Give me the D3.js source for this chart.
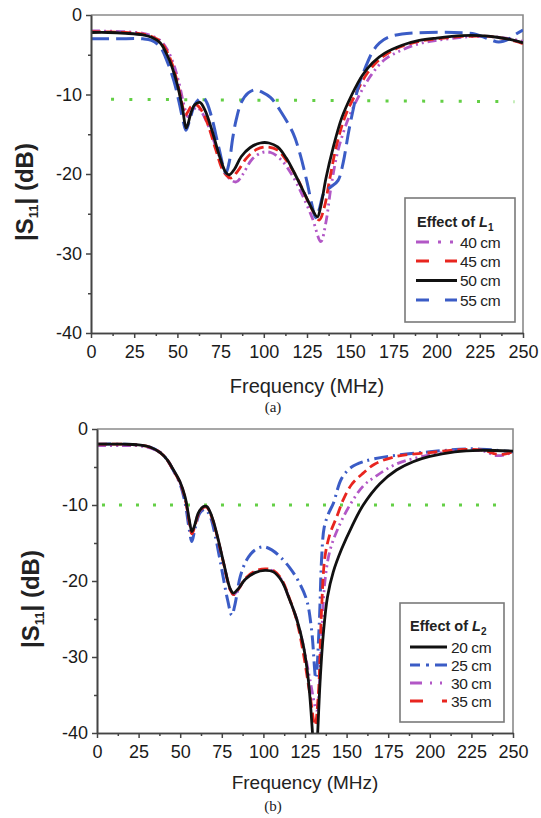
<!DOCTYPE html>
<html>
<head>
<meta charset="utf-8">
<script src="https://cdn.jsdelivr.net/npm/d3@7"></script>
<style>
  body { margin: 0; background: #fff; }
  svg { display: block; }
</style>
</head>
<body>
<svg id="chart" width="541" height="818"></svg>
<script>
// |S11| vs frequency, two stacked panels: (a) effect of L1, (b) effect of L2

// ---- data, panel (a): [frequency MHz, |S11| dB]
const xTicks = [0, 25, 50, 75, 100, 125, 150, 175, 200, 225, 250];
const yTicks = [0, -10, -20, -30, -40];

const a40 = [[0,-2.0],[20,-2.1],[30,-2.3],[35,-2.6],[40,-3.2],[44,-4.3],[48,-6.3],[51,-8.6],[54,-11.5],[56,-12.8],[58,-12.4],[61,-11.6],[64,-12.2],[68,-14.0],[73,-17.0],[79,-20.3],[84,-21.0],[88,-20.0],[93,-18.2],[99,-17.3],[104,-17.3],[110,-18.2],[116,-20.0],[122,-22.5],[128,-25.5],[133,-28.5],[136,-26.0],[139,-21.5],[143,-17.0],[149,-13.0],[155,-10.2],[162,-7.6],[170,-5.6],[180,-4.4],[190,-3.6],[200,-3.2],[215,-2.8],[230,-2.7],[240,-2.9],[250,-3.3]];
const a45 = [[0,-2.1],[20,-2.2],[30,-2.4],[35,-2.7],[40,-3.3],[44,-4.6],[47,-6.2],[50,-8.5],[53,-11.5],[54.5,-12.6],[56,-12.2],[58,-11.5],[61,-11.3],[64,-12.0],[68,-14.0],[72,-16.8],[77,-19.8],[81,-20.5],[85,-19.6],[90,-18.0],[96,-16.9],[102,-16.6],[108,-17.0],[114,-18.6],[120,-20.8],[126,-23.6],[132,-25.8],[135,-24.2],[138,-20.8],[142,-16.5],[147,-12.8],[153,-10.0],[160,-7.3],[168,-5.4],[178,-4.1],[190,-3.3],[200,-3.0],[215,-2.7],[230,-2.7],[240,-3.0],[250,-3.6]];
const a50 = [[0,-2.2],[10,-2.2],[20,-2.3],[30,-2.5],[35,-2.8],[40,-3.5],[44,-5.0],[47,-6.6],[50,-8.8],[53,-11.8],[55,-14.2],[56,-13.8],[58,-12.2],[60,-11.3],[63,-11.0],[66,-12.0],[70,-14.5],[74,-17.5],[78,-19.8],[80,-20.1],[83,-19.4],[87,-17.8],[92,-16.7],[98,-16.1],[103,-16.1],[108,-16.6],[113,-18.0],[118,-20.0],[123,-22.2],[127,-24.0],[131,-25.4],[133,-24.0],[136,-20.5],[140,-16.8],[145,-13.0],[151,-10.0],[157,-7.6],[163,-6.0],[170,-4.8],[180,-3.8],[190,-3.2],[200,-2.9],[215,-2.6],[225,-2.6],[235,-2.8],[243,-3.1],[250,-3.5]];
const a55 = [[0,-3.0],[15,-3.0],[30,-3.0],[35,-3.2],[40,-4.0],[44,-5.8],[48,-8.3],[51,-11.0],[53.5,-13.5],[55,-14.5],[57,-13.3],[60,-11.3],[63,-10.5],[65,-10.4],[67,-11.0],[70,-13.0],[74,-16.7],[78,-19.9],[80,-18.5],[82,-15.5],[84,-13.2],[87,-11.0],[91,-9.8],[95,-9.4],[99,-9.7],[104,-10.4],[110,-12.2],[117,-14.9],[121,-17.5],[125,-21.0],[128,-24.0],[130,-25.5],[132,-24.5],[135,-22.3],[139,-21.6],[143,-20.8],[146,-18.5],[149,-14.8],[152,-11.6],[155,-8.8],[159,-6.5],[163,-4.6],[167,-3.5],[172,-2.8],[180,-2.4],[195,-2.2],[210,-2.2],[222,-2.4],[230,-3.0],[236,-3.4],[242,-3.0],[246,-2.4],[250,-1.9]];
const aRef = [[11.6,-10.6],[245,-10.9]];

// ---- data, panel (b)
const b20 = [[0,-2.0],[15,-2.0],[25,-2.1],[32,-2.4],[38,-3.1],[42,-4.0],[46,-5.4],[50,-7.0],[53,-9.0],[55.5,-12.0],[57,-13.5],[58.5,-12.8],[61,-11.0],[64,-10.2],[66,-10.2],[69,-11.5],[72,-13.8],[76,-17.5],[80,-21.0],[82,-21.6],[85,-21.0],[89,-19.8],[95,-18.9],[101,-18.6],[106,-18.8],[111,-20.0],[116,-22.6],[120,-25.0],[124,-28.5],[127,-33.0],[129.5,-40.0],[131,-46.0],[132.5,-40.5],[134,-33.5],[136,-27.0],[138.5,-22.1],[142,-18.8],[147,-15.8],[153,-12.9],[160,-10.0],[170,-7.2],[180,-5.4],[190,-4.3],[200,-3.6],[215,-3.0],[230,-2.8],[250,-2.9]];
const b25 = [[0,-2.0],[15,-2.0],[25,-2.1],[32,-2.4],[38,-3.1],[42,-4.0],[46,-5.5],[50,-7.3],[53,-9.8],[55.5,-13.3],[57,-14.8],[59,-13.0],[62,-11.0],[65,-10.6],[68,-11.5],[71,-14.0],[75,-18.5],[78.5,-22.5],[81,-24.5],[83,-23.0],[86,-19.5],[90,-17.2],[95,-15.9],[100,-15.5],[105,-15.9],[110,-16.8],[116,-18.3],[121,-20.0],[126,-22.5],[129,-26.5],[131.5,-32.8],[133.5,-26.0],[135,-17.0],[136.5,-13.0],[139,-11.2],[142,-9.8],[147,-6.5],[153,-5.0],[160,-4.3],[175,-3.6],[200,-3.0],[225,-2.6],[240,-2.8],[250,-3.0]];
const b30 = [[0,-2.2],[15,-2.2],[25,-2.2],[32,-2.5],[38,-3.1],[42,-4.0],[46,-5.5],[50,-7.1],[53,-9.2],[55.5,-12.2],[57,-13.7],[58.5,-12.9],[61,-11.1],[64,-10.3],[66,-10.3],[69,-11.6],[72,-13.9],[76,-17.6],[80,-21.1],[82,-21.8],[85,-21.1],[89,-19.8],[95,-18.8],[101,-18.5],[106,-18.7],[111,-19.9],[116,-22.6],[120,-25.0],[124,-28.5],[128,-33.0],[132,-37.0],[135,-27.0],[137,-20.0],[140,-16.0],[145,-13.0],[152,-10.0],[160,-7.5],[167,-6.3],[180,-4.6],[200,-3.4],[220,-2.8],[232,-2.9],[240,-3.5],[245,-3.4],[250,-3.0]];
const b35 = [[0,-2.0],[15,-2.0],[25,-2.1],[32,-2.4],[38,-3.1],[42,-4.0],[46,-5.5],[50,-7.1],[53,-9.2],[55.5,-12.3],[57,-13.8],[58.5,-13.0],[61,-11.2],[64,-10.3],[66,-10.3],[69,-11.6],[72,-13.9],[76,-17.6],[80,-21.1],[82,-21.8],[85,-21.1],[89,-19.7],[95,-18.7],[101,-18.4],[106,-18.6],[111,-19.8],[116,-22.5],[120,-25.2],[124,-29.5],[128,-35.0],[131,-39.0],[133,-35.0],[135,-23.5],[137,-16.8],[140,-13.8],[144,-11.6],[148,-9.3],[153,-7.3],[160,-5.8],[167,-4.6],[180,-3.6],[200,-3.1],[220,-2.7],[232,-2.8],[240,-3.3],[245,-3.3],[250,-3.0]];
const bRef = [[3,-10],[244,-10]];

const labelsA = ["40 cm", "45 cm", "50 cm", "55 cm"];
const labelsB = ["20 cm", "25 cm", "30 cm", "35 cm"];

// ---- colours
const PINK = "#b257c6", RED = "#e8251f", BLACK = "#111", BLUE = "#3b5cc6", GREEN = "#63cf45";
const FONT = "'Liberation Sans', Arial, sans-serif";

const svg = d3.select("#chart");

function drawPanel(cfg) {
  const b = cfg.box;
  const x = d3.scaleLinear().domain([0, 250]).range([b.left, b.right]);
  const y = d3.scaleLinear().domain([-40, 0]).range([b.bottom, b.top]);
  const g = svg.append("g");

  g.append("clipPath").attr("id", cfg.id + "-clip")
    .append("rect")
    .attr("x", b.left).attr("y", b.top)
    .attr("width", b.right - b.left).attr("height", b.bottom - b.top);

  // frame top/right (lighter grey)
  g.append("path")
    .attr("d", `M${b.left},${b.top}H${b.right}V${b.bottom}`)
    .attr("fill", "none").attr("stroke", "#8a8a8a").attr("stroke-width", 1.6);

  const plot = g.append("g").attr("clip-path", `url(#${cfg.id}-clip)`);

  // -10 dB reference dots
  plot.append("path")
    .attr("d", d3.line().x(d => x(d[0])).y(d => y(d[1]))(cfg.ref))
    .attr("fill", "none").attr("stroke", GREEN).attr("stroke-width", 3)
    .attr("stroke-dasharray", cfg.refDash);

  const line = d3.line()
    .x(d => x(d[0])).y(d => y(d[1]))
    .curve(d3.curveCatmullRom.alpha(0.5));

  // drawn in given order (solid black last so it sits on top)
  cfg.drawOrder.forEach(s => {
    plot.append("path")
      .attr("d", line(s.data))
      .attr("fill", "none")
      .attr("stroke", s.color)
      .attr("stroke-width", s.width)
      .attr("stroke-dasharray", s.dash)
      .attr("stroke-linejoin", "round");
  });

  // axes
  const styleAxis = sel => {
    sel.select(".domain").attr("stroke", "#444").attr("stroke-width", 1.6);
    sel.selectAll(".tick line").attr("stroke", "#444").attr("stroke-width", 1.5);
    sel.selectAll("text").attr("font-family", FONT).attr("font-size", 18).attr("fill", "#1a1a1a");
  };
  const minorX = d3.range(12.5, 250, 25);
  const minorY = [-5, -15, -25, -35];

  g.append("g").attr("transform", `translate(0,${b.bottom})`)
    .call(d3.axisBottom(x).tickValues(minorX).tickSize(3).tickFormat("").tickSizeOuter(0))
    .call(styleAxis);
  g.append("g").attr("transform", `translate(${b.left},0)`)
    .call(d3.axisLeft(y).tickValues(minorY).tickSize(3).tickFormat("").tickSizeOuter(0))
    .call(styleAxis);
  g.append("g").attr("transform", `translate(0,${b.bottom})`)
    .call(d3.axisBottom(x).tickValues(xTicks).tickSize(5).tickPadding(7).tickSizeOuter(0).tickFormat(d3.format("d")))
    .call(styleAxis);
  g.append("g").attr("transform", `translate(${b.left},0)`)
    .call(d3.axisLeft(y).tickValues(yTicks).tickSize(5).tickPadding(4).tickSizeOuter(0)
      .tickFormat(d => d === 0 ? "0" : "-" + Math.abs(d)))
    .call(styleAxis);

  // axis titles
  g.append("text")
    .attr("x", (b.left + b.right) / 2).attr("y", cfg.xTitleY)
    .attr("text-anchor", "middle")
    .attr("font-family", FONT).attr("font-size", cfg.xTitleSize).attr("fill", "#222")
    .text("Frequency (MHz)");

  const yt = g.append("text")
    .attr("transform", `translate(${cfg.yTitleX},${cfg.yTitleY}) rotate(-90)`)
    .attr("text-anchor", "middle")
    .attr("font-family", FONT).attr("font-size", 24).attr("font-weight", "bold").attr("fill", "#222");
  yt.append("tspan").text("|S");
  yt.append("tspan").attr("font-size", 13).attr("dy", 5).text("11");
  yt.append("tspan").attr("dy", -5).text("| (dB)");

  g.append("text")
    .attr("x", cfg.capX).attr("y", cfg.capY)
    .attr("text-anchor", "middle")
    .attr("font-family", "'Liberation Serif', 'Times New Roman', serif")
    .attr("font-size", 15).attr("fill", "#222")
    .text(cfg.caption);

  // legend
  const L = cfg.legend;
  g.append("rect")
    .attr("x", L.x0).attr("y", L.y0)
    .attr("width", L.x1 - L.x0).attr("height", L.y1 - L.y0)
    .attr("fill", "#fff").attr("stroke", "#7a7a7a").attr("stroke-width", 1.6);

  const title = g.append("text")
    .attr("x", L.titleX).attr("y", L.titleY)
    .attr("font-family", FONT).attr("font-size", 14.5).attr("font-weight", "bold").attr("fill", "#222");
  title.append("tspan").text("Effect of ");
  title.append("tspan").attr("font-style", "italic").text("L");
  title.append("tspan").attr("font-size", 10).attr("dy", 4).text(L.sub);

  cfg.legendOrder.forEach((s, i) => {
    const cy = L.rows[i];
    g.append("line")
      .attr("x1", L.lx0).attr("x2", L.lx1)
      .attr("y1", cy).attr("y2", cy)
      .attr("stroke", s.color).attr("stroke-width", 3.2)
      .attr("stroke-dasharray", s.legendDash);
    g.append("text")
      .attr("x", L.tx).attr("y", cy + 5.5)
      .attr("font-family", FONT).attr("font-size", 15.5).attr("letter-spacing", -0.4).attr("fill", "#222")
      .text(s.label);
  });
}

// ---- panel (a)
const s40 = { label: labelsA[0], data: a40, color: PINK, width: 2.8, dash: "9,4,2,4,2,4", legendDash: "13,9,3,9,3,9" };
const s45 = { label: labelsA[1], data: a45, color: RED, width: 2.8, dash: "10,5", legendDash: "13,16" };
const s50 = { label: labelsA[2], data: a50, color: BLACK, width: 2.8, dash: null, legendDash: null };
const s55 = { label: labelsA[3], data: a55, color: BLUE, width: 3, dash: "18,7", legendDash: "13,16" };

drawPanel({
  id: "pa",
  box: { left: 91, right: 523, top: 15, bottom: 333 },
  drawOrder: [s40, s45, s55, s50],
  legendOrder: [s40, s45, s50, s55],
  ref: aRef, refDash: "3,15.3",
  xTitleY: 393, xTitleSize: 20,
  yTitleX: 33, yTitleY: 192,
  caption: "(a)", capX: 273, capY: 412,
  legend: { x0: 405, x1: 515, y0: 198, y1: 322, titleX: 417, titleY: 227, sub: "1",
            rows: [242, 261, 280.5, 300], lx0: 416, lx1: 457, tx: 460 }
});

// ---- panel (b)
const s20 = { label: labelsB[0], data: b20, color: BLACK, width: 2.8, dash: null, legendDash: null };
const s25 = { label: labelsB[1], data: b25, color: BLUE, width: 3, dash: "14,5,2,5", legendDash: "10,6,3,6,12" };
const s30 = { label: labelsB[2], data: b30, color: PINK, width: 2.8, dash: "9,4,2,4,2,4", legendDash: "12,8,2,8,2,20" };
const s35 = { label: labelsB[3], data: b35, color: RED, width: 2.8, dash: "10,5", legendDash: "13,19,10" };

drawPanel({
  id: "pb",
  box: { left: 97, right: 513, top: 429, bottom: 733 },
  drawOrder: [s25, s30, s35, s20],
  legendOrder: [s20, s25, s30, s35],
  ref: bRef, refDash: "3,14",
  xTitleY: 789, xTitleSize: 19,
  yTitleX: 39, yTitleY: 599,
  caption: "(b)", capX: 273, capY: 811,
  legend: { x0: 400, x1: 504, y0: 603, y1: 722, titleX: 410, titleY: 631, sub: "2",
            rows: [647, 665, 683, 701], lx0: 410, lx1: 447, tx: 451 }
});
</script>
</body>
</html>
